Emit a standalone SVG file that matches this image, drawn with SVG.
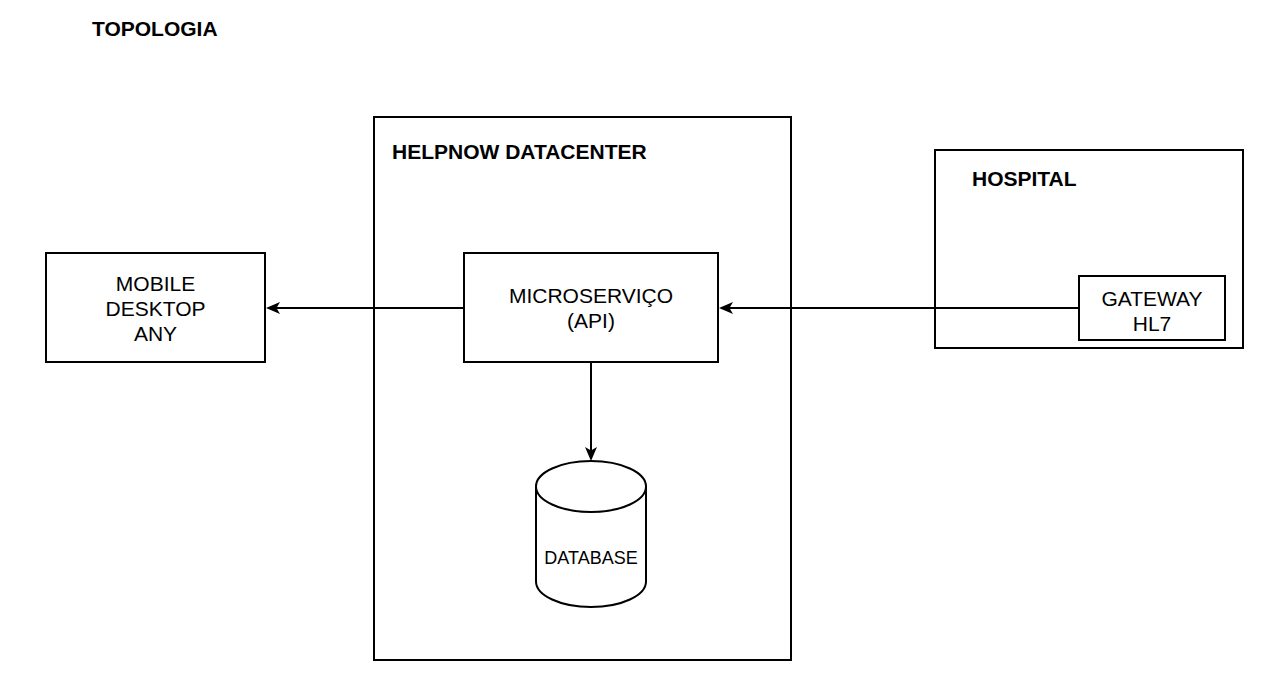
<svg xmlns="http://www.w3.org/2000/svg" width="1280" height="695" viewBox="0 0 1280 695">
<style>
.box{fill:#fff;stroke:#000;stroke-width:2}
.cont{fill:none;stroke:#000;stroke-width:2}
.lbl{font-family:"Liberation Sans",Arial,sans-serif;font-size:21px;fill:#000;text-anchor:middle}
.ttl{font-family:"Liberation Sans",Arial,sans-serif;font-size:21px;font-weight:bold;fill:#000}
.edge{fill:none;stroke:#000;stroke-width:2}
</style>
<defs>
<marker id="arr" markerUnits="userSpaceOnUse" markerWidth="14" markerHeight="12" viewBox="0 0 14 12" refX="10" refY="6" orient="auto">
<path d="M14,6 L0,0 L3.5,6 L0,12 Z" fill="#000"/>
</marker>
</defs>
<rect width="1280" height="695" fill="#fff"/>
<text class="ttl" x="92" y="36">TOPOLOGIA</text>
<g id="datacenter">
<rect class="cont" x="374" y="117" width="417" height="543"/>
<text class="ttl" x="392" y="158.5">HELPNOW DATACENTER</text>
</g>
<g id="hospital">
<rect class="cont" x="935" y="150" width="308" height="198"/>
<text class="ttl" x="972" y="185.5">HOSPITAL</text>
</g>
<g id="edges">
<line class="edge" x1="464" y1="308" x2="270" y2="308" marker-end="url(#arr)"/>
<line class="edge" x1="1079" y1="308" x2="723" y2="308" marker-end="url(#arr)"/>
<line class="edge" x1="591" y1="362" x2="591" y2="457" marker-end="url(#arr)"/>
</g>
<g id="mobile">
<rect class="box" x="46" y="253" width="219" height="109"/>
<text class="lbl" x="155.5" y="291">MOBILE</text>
<text class="lbl" x="155.5" y="316">DESKTOP</text>
<text class="lbl" x="155.5" y="341">ANY</text>
</g>
<g id="microservico">
<rect class="box" x="464" y="253" width="254" height="109"/>
<text class="lbl" x="591" y="303">MICROSERVIÇO</text>
<text class="lbl" x="591" y="328">(API)</text>
</g>
<g id="database">
<path class="box" d="M536,486.5 A55,25.5 0 0 1 646,486.5 L646,581.5 A55,25.5 0 0 1 536,581.5 Z"/>
<path class="edge" d="M536,486.5 A55,25.5 0 0 0 646,486.5"/>
<text class="lbl" x="591" y="564" style="font-size:18px">DATABASE</text>
</g>
<g id="gateway">
<rect class="box" x="1079" y="276" width="146" height="64"/>
<text class="lbl" x="1152" y="305.5">GATEWAY</text>
<text class="lbl" x="1152" y="331">HL7</text>
</g>
</svg>
